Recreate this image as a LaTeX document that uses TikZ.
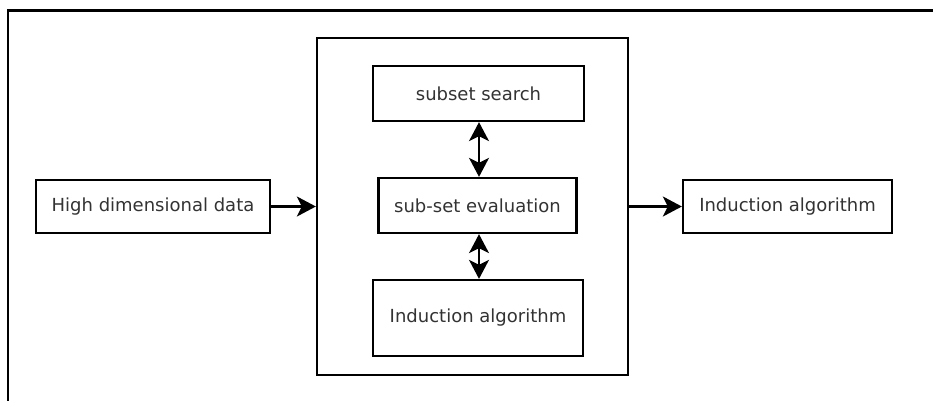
\documentclass[tikz,border=0pt]{standalone}
\usepackage{fontspec}
\setmainfont{DejaVu Sans}
\usetikzlibrary{arrows.meta}
\definecolor{txt}{HTML}{333333}
\tikzset{
  box/.style={draw=black, line width=2.3pt, fill=white, inner sep=0pt,
    font=\fontsize{18}{21}\selectfont, text=txt},
  tip/.tip={Stealth[length=19pt,width=20pt,inset=5pt]},
  conn/.style={line width=2.3pt, -tip},
  biconn/.style={line width=2pt, tip-tip}
}
\begin{document}
\begin{tikzpicture}[x=1pt,y=-1pt]
  \useasboundingbox (0,0) rectangle (933,400);
  \clip (0,0) rectangle (933,400);
  % outer frame (runs past the right and bottom edges)
  \draw[line width=2.5pt] (8,10.5) rectangle (980,440);

  % wrapper block
  \node[box, minimum width=311pt, minimum height=337pt] (wrap) at (472.5,206.5) {};

  % inner blocks
  \node[box, minimum width=211pt, minimum height=55pt] (search) at (478.5,93.5) {subset search};
  \node[box, minimum width=198pt, minimum height=55pt] (eval) at (477.5,205.5) {sub-set evaluation};
  \node[box, minimum width=210pt, minimum height=76pt] (induct) at (478,318) {Induction algorithm};

  % outside blocks
  \node[box, minimum width=234pt, minimum height=53pt] (data) at (153,206.5) {High dimensional data};
  \node[box, minimum width=209pt, minimum height=53pt] (out) at (787.5,206.5) {Induction algorithm};

  % connectors
  \draw[conn] (data.east) -- (wrap.west);
  \draw[conn] (wrap.east) -- (out.west);
  \draw[biconn] (eval.north -| 479,0) -- (search.south -| 479,0);
  \draw[biconn] (eval.south -| 479,0) -- (induct.north -| 479,0);
\end{tikzpicture}
\end{document}
